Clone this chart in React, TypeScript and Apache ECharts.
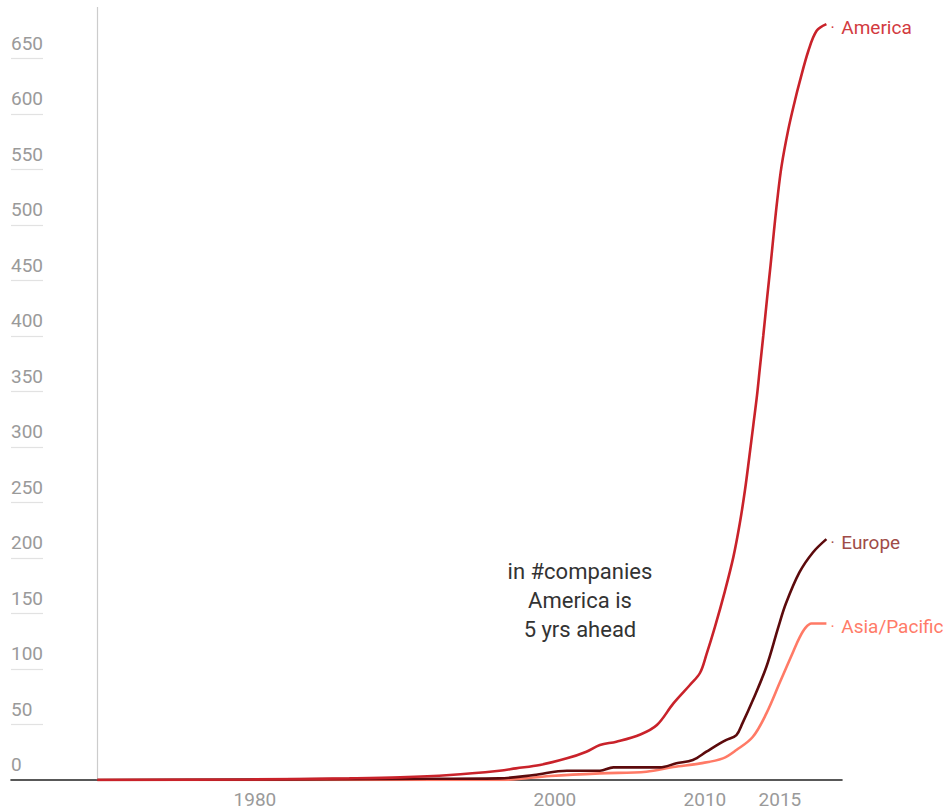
import React, { useEffect, useRef } from "react";
import * as echarts from "echarts";

const americaYears = [1969.5, 1979.7, 1986.3, 1989.7, 1993.0, 1996.3, 1997.4, 1999.0, 2000.8, 2002.1, 2003.0, 2004.1, 2005.7, 2006.8, 2007.9, 2009.0, 2009.67, 2010.1, 2010.67, 2011.33, 2011.9, 2012.33, 2012.67, 2012.96, 2013.23, 2013.47, 2013.67, 2013.89, 2014.16, 2014.38, 2014.6, 2014.82, 2015.11, 2015.56, 2016.0, 2016.3, 2016.9, 2017.45, 2018.1];
const americaValues = [0, 0.5, 1.5, 2.4, 4.5, 8.4, 10.5, 13.5, 19.5, 25.5, 31.5, 34.5, 41, 49.5, 69, 85.6, 96.4, 113, 138, 170, 201, 231.5, 261, 291, 320, 346, 372, 400, 436, 464, 494, 522, 553, 586, 612, 628, 657, 675, 681];

const europeYears = [1969.5, 1989.7, 1996.3, 1998.6, 2000.8, 2003.0, 2003.9, 2007.0, 2008.1, 2009.2, 2010.1, 2011.0, 2011.4, 2012.1, 2012.5, 2013.2, 2014.1, 2014.9, 2015.4, 2016.3, 2017.2, 2018.1];
const europeValues = [0, 1, 1.5, 4.5, 8.4, 8.4, 11.4, 11.4, 15, 18, 25.5, 33, 36, 40.5, 51, 72, 102, 138, 159, 187, 205, 217];

const asiaYears = [1969.5, 1996.3, 1999.7, 2003.0, 2006.1, 2007.9, 2009.7, 2011.2, 2012.1, 2013.2, 2014.1, 2015.0, 2015.9, 2016.3, 2016.7, 2017.1, 2018.1];
const asiaValues = [0, 0, 3.6, 6, 7.5, 11.7, 15, 19.5, 27, 39, 60, 88, 116, 128, 137, 141, 141];

const seriesNames = ["America", "Europe", "Asia/Pacific"];
const lineColors = ["#c9222a", "#5c0a0c", "#ff7a66"];
const labelColors = ["#d23a40", "#a04c48", "#ff7b68"];

const xTickLabels = [1980, 2000, 2010, 2015];
const yTickValues = [0, 50, 100, 150, 200, 250, 300, 350, 400, 450, 500, 550, 600, 650];
const yTickMarks = yTickValues.filter((v) => v > 0);

const annotationText = ["in #companies", "America is", "5 yrs ahead"];
const annotationPos = [2001.67, 162];

const FONT = "Roboto, 'Noto Sans', sans-serif";

function pairs(xs: number[], ys: number[]) {
  return xs.map((x, i) => [x, ys[i]]);
}

export default function App() {
  const ref = useRef<HTMLDivElement>(null);
  useEffect(() => {
    if (!ref.current) return;
    const chart = echarts.init(ref.current, undefined, { renderer: "svg" });
    const datasets = [
      pairs(americaYears, americaValues),
      pairs(europeYears, europeValues),
      pairs(asiaYears, asiaValues),
    ];
    const series: any[] = datasets.map((d, i) => ({
      name: seriesNames[i],
      type: "line",
      data: d,
      smooth: 0.35,
      showSymbol: false,
      symbol: "none",
      lineStyle: { color: lineColors[i], width: 2.6 },
      itemStyle: { color: lineColors[i] },
      z: 10 - i,
      endLabel: {
        show: true,
        distance: 4,
        offset: [0, 3],
        formatter: "{d|·}  {n|" + seriesNames[i] + "}",
        rich: {
          d: { color: labelColors[i], fontSize: 16, fontFamily: FONT },
          n: { color: labelColors[i], fontSize: 19, fontFamily: FONT },
        },
      },
    }));
    series[0].markLine = {
      silent: true,
      symbol: "none",
      label: { show: false },
      lineStyle: { color: "#cccccc", width: 1.2, type: "solid" },
      data: [{ xAxis: 1969.47 }],
    };
    series[0].markPoint = {
      silent: true,
      symbol: "circle",
      symbolSize: 0,
      data: [{ coord: annotationPos }],
      label: {
        show: true,
        position: "inside",
        formatter: annotationText.join("\n"),
        color: "#333333",
        fontSize: 22,
        lineHeight: 29,
        align: "center",
        fontFamily: FONT,
      },
    };
    chart.setOption({
      animation: false,
      backgroundColor: "#ffffff",
      grid: { left: 11, right: 107, top: 7, bottom: 32, containLabel: false },
      xAxis: {
        type: "value",
        min: 1963.74,
        max: 2019.14,
        splitLine: { show: false },
        axisTick: { show: false },
        axisLine: { show: true, onZero: true, lineStyle: { color: "#222222", width: 1.6 } },
        axisLabel: {
          customValues: xTickLabels,
          formatter: (v: number) => String(v),
          color: "#9a9a9a",
          fontSize: 19,
          fontFamily: FONT,
          margin: 10,
        },
      },
      yAxis: {
        type: "value",
        min: 0,
        max: 696.4,
        splitLine: { show: false },
        axisLine: { show: false },
        axisTick: {
          show: true,
          inside: true,
          length: 32,
          customValues: yTickMarks,
          lineStyle: { color: "#e2e2e2", width: 1.2 },
        },
        axisLabel: {
          customValues: yTickValues,
          formatter: (v: number) => String(v),
          inside: true,
          margin: 0,
          align: "left",
          verticalAlign: "bottom",
          padding: [0, 0, 6, 0],
          color: "#9a9a9a",
          fontSize: 19,
          fontFamily: FONT,
        },
      },
      series,
    });
    return () => chart.dispose();
  }, []);
  return <div ref={ref} style={{ width: 949, height: 812, position: "absolute", left: 0, top: 0 }} />;
}
